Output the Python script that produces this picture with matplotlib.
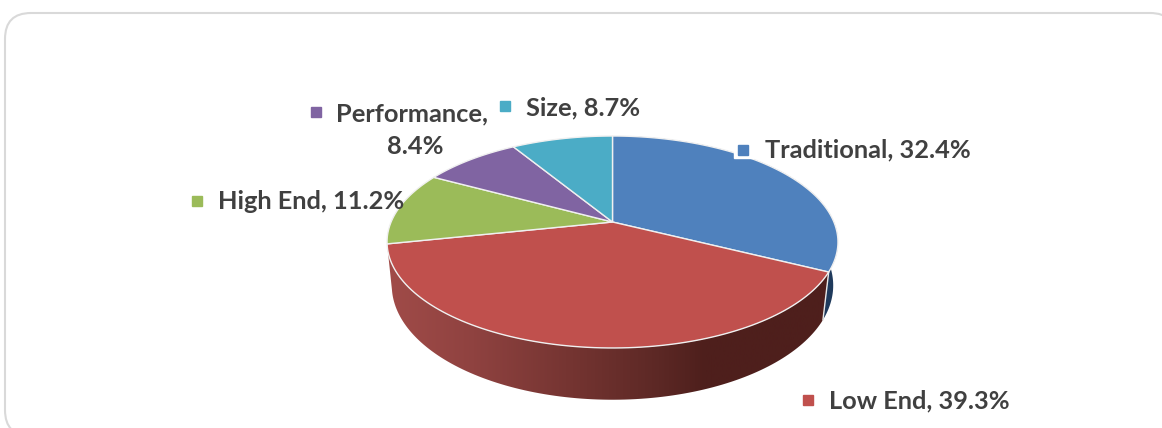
import numpy as np
import matplotlib
matplotlib.use("Agg")
import matplotlib.pyplot as plt
from matplotlib.patches import Polygon, FancyBboxPatch
from matplotlib.colors import LinearSegmentedColormap

categories = ["Traditional", "Low End", "High End", "Performance", "Size"]
shares = [32.4, 39.3, 11.2, 8.4, 8.7]
colors = ["#4f81bd", "#c0504d", "#9bbb59", "#8064a2", "#4bacc6"]

plt.rcParams["font.family"] = ["Lato", "DejaVu Sans"]

CX = 612.5


def project(angle, apex_y, a, c, k):
    """disc angle (deg clockwise from top) to pixels, with perspective"""
    t = np.radians(angle)
    X, Y = np.sin(t), np.cos(t)
    w = 1 + k*Y
    return CX + a*X/w, apex_y - c*Y/w


TOP = dict(apex_y=222, a=221.4, c=102.2, k=0.1887)
BOTTOM = dict(apex_y=266, a=217.5, c=111, k=0.17)


def side(ax, a0, a1, cmap):
    t = np.linspace(a0, a1, 120)
    xt, yt = project(t, **TOP)
    xb, yb = project(t, **BOTTOM)
    pts = np.column_stack([np.r_[xt, xb[::-1]], np.r_[yt, yb[::-1]]])
    clip = Polygon(pts, closed=True, fc="none", ec="none")
    ax.add_patch(clip)
    grad = np.linspace(0, 1, 256).reshape(1, -1)
    im = ax.imshow(grad, extent=(380, 845, 428, 0), cmap=cmap, aspect="auto", zorder=1)
    im.set_clip_path(clip)


def main():
    fig = plt.figure(figsize=(11.62, 4.28), dpi=100)
    ax = fig.add_axes([0, 0, 1, 1])
    ax.set_xlim(0, 1162)
    ax.set_ylim(428, 0)
    ax.axis("off")

    # card border runs off the right and bottom of the picture
    ax.add_patch(FancyBboxPatch((5, 13), 1171, 423, boxstyle="round,pad=0,rounding_size=26",
                                fc="white", ec="#d9d9d9", lw=1.5, zorder=0))

    edges = np.r_[0, np.cumsum(shares)]*3.6

    red_cmap = LinearSegmentedColormap.from_list(
        "red_side", [(0, "#a24c49"), (0.2, "#8f4240"), (0.4, "#763532"),
                     (0.6, "#5c2825"), (0.7, "#4e1f1c"), (1, "#4e1f1c")])
    blue_cmap = LinearSegmentedColormap.from_list("blue_side", ["#1f3a5c", "#1f3a5c"])
    side(ax, edges[0], edges[1], blue_cmap)
    side(ax, edges[1], edges[2], red_cmap)

    # pale divider at the front of the cut between the two side walls
    xt, yt = project(edges[1], **TOP)
    xb, yb = project(edges[1], **BOTTOM)
    ax.plot([xt, xb], [yt, yb], color="#e8e8e8", lw=1, zorder=2)

    for i, name in enumerate(categories):
        t = np.linspace(edges[i], edges[i+1], 100)
        x, y = project(t, **TOP)
        ax.add_patch(Polygon(np.column_stack([np.r_[CX, x], np.r_[222, y]]), closed=True,
                             fc=colors[i], ec="#f0f0f0", lw=1, zorder=3))

    label_style = dict(fontsize=18.3, fontweight="bold", color="#404040", va="center", zorder=6)
    key = dict(marker="s", ms=7.5, ls="none", zorder=6)
    # the Traditional key sits in a white box that cuts into the pie
    ax.plot([744], [148], marker="s", ms=15, color="white", ls="none", zorder=5)
    ax.plot([743], [150], color=colors[0], **key)
    ax.text(765, 150, f"{categories[0]}, {shares[0]}%", **label_style)
    ax.text(829, 401, f"{categories[1]}, {shares[1]}%", **label_style)
    ax.plot([808], [400], color=colors[1], **key)
    ax.text(218, 201, f"{categories[2]}, {shares[2]}%", **label_style)
    ax.plot([197], [201], color=colors[2], **key)
    ax.text(336, 114, f"{categories[3]},", **label_style)
    ax.text(415, 147, f"{shares[3]}%", ha="center", **label_style)
    ax.plot([316], [112], color=colors[3], **key)
    ax.text(526, 108, f"{categories[4]}, {shares[4]}%", **label_style)
    ax.plot([505], [106], color=colors[4], **key)

    fig.savefig("out.png", dpi=100)


if __name__ == "__main__":
    main()
